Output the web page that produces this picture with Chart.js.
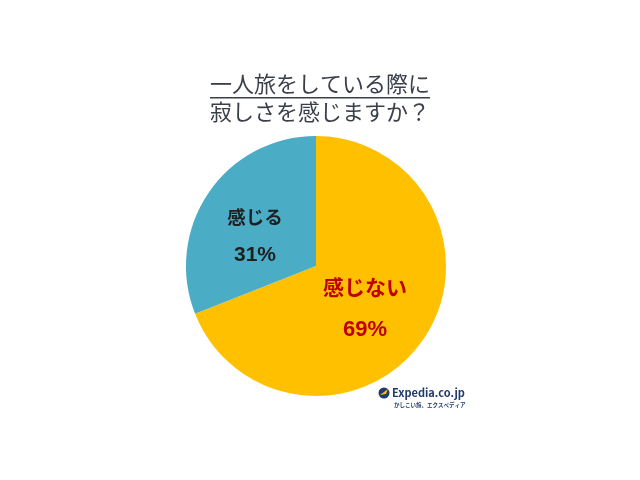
<!DOCTYPE html>
<html><head><meta charset="utf-8">
<script src="https://cdn.jsdelivr.net/npm/chart.js@4/dist/chart.umd.min.js"></script>
<style>html,body{margin:0;padding:0;background:#fff;}#wrap{width:640px;height:480px;}</style>
</head><body><div id="wrap"><canvas id="c" width="640" height="480"></canvas></div>
<script>
const categories = ["感じない", "感じる"];
const values = [69, 31];
const titleLines = ["一人旅をしている際に", "寂しさを感じますか？"];
const colors = ["#FFC000", "#4BACC6"];
const labelColors = ["#C00000", "#1F1F1F"];

const FONT = '"Noto Sans CJK JP", "Noto Sans", sans-serif';

const overlay = {
  id: 'overlay',
  afterDraw(chart) {
    const ctx = chart.ctx;
    ctx.save();
    // title
    ctx.fillStyle = '#3A3F4A';
    ctx.textAlign = 'center';
    ctx.textBaseline = 'middle';
    ctx.font = '22px ' + FONT;
    ctx.fillText(titleLines[0], 320, 84);
    const w = ctx.measureText(titleLines[0]).width;
    ctx.fillRect(320 - w/2, 97, w, 1.5);
    ctx.fillText(titleLines[1], 320, 112);
    // slice labels
    const meta = chart.getDatasetMeta(0);
    const pos = [[365, 287, 330, 21, 22], [255, 217, 255, 18.5, 21]];
    meta.data.forEach((arc, i) => {
      ctx.fillStyle = labelColors[i];
      ctx.font = 'bold ' + pos[i][3] + 'px ' + FONT;
      ctx.fillText(categories[i], pos[i][0], pos[i][1]);
      ctx.font = 'bold ' + pos[i][4] + 'px "Liberation Sans", Arial, sans-serif';
      ctx.fillText(values[i] + '%', pos[i][0], pos[i][2]);
    });
    // logo
    ctx.fillStyle = '#1F3A6B';
    ctx.beginPath(); ctx.arc(384, 393, 5.5, 0, Math.PI*2); ctx.fill();
    ctx.fillStyle = '#FFC000';
    ctx.beginPath(); ctx.moveTo(380,395); ctx.lineTo(388,389); ctx.lineTo(386,394); ctx.closePath(); ctx.fill();
    ctx.fillStyle = '#1F3A6B';
    ctx.textAlign = 'left';
    ctx.font = 'bold 11px ' + FONT;
    ctx.fillText('Expedia.co.jp', 392, 393);
    ctx.font = 'bold 5.5px ' + FONT;
    ctx.fillText('かしこい旅、エクスペディア', 394, 405);
    ctx.restore();
  }
};

new Chart(document.getElementById('c'), {
  type: 'pie',
  data: { labels: categories, datasets: [{ data: values, backgroundColor: colors, borderWidth: 0 }] },
  options: {
    responsive: false, animation: false,
    layout: { padding: { top: 136, bottom: 84, left: 186, right: 194 } },
    plugins: { legend: { display: false }, tooltip: { enabled: false }, title: { display: false } }
  },
  plugins: [overlay]
});
</script></body></html>
